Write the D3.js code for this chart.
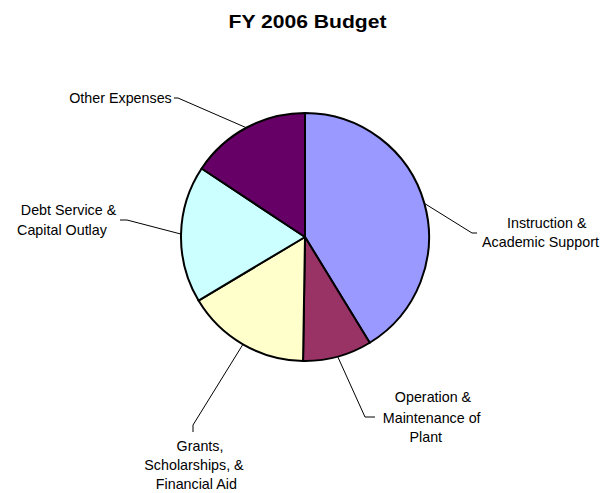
<!DOCTYPE html>
<html><head><meta charset="utf-8">
<script src="https://cdn.jsdelivr.net/npm/d3@7"></script>
<style>html,body{margin:0;padding:0;background:#fff;}svg{display:block;}</style>
</head><body>
<script>
const categories = ["Instruction & Academic Support", "Operation & Maintenance of Plant", "Grants, Scholarships, & Financial Aid", "Debt Service & Capital Outlay", "Other Expenses"];
const values = [41.3, 9.0, 16.2, 17.9, 15.7];
const colors = ["#9999FF", "#993366", "#FFFFCC", "#CCFFFF", "#660066"];
const labelLines = [
  ["Instruction &", "Academic Support"],
  ["Operation &", "Maintenance of", "Plant"],
  ["Grants,", "Scholarships, &", "Financial Aid"],
  ["Debt Service &", "Capital Outlay"],
  ["Other Expenses"]
];
const title = "FY 2006 Budget";

// layout (positions only)
const W = 614, H = 493, cx = 305, cy = 237, R = 124;
const leaderLayout = [
  {elbow: [472, 233], end: [477, 233], xs: [546.7, 540.5], ys: [227.5, 247]},
  {elbow: [365, 417], end: [375, 417], xs: [433, 431.7, 425.8], ys: [402, 422.5, 442]},
  {elbow: [193, 425], end: [193, 432], xs: [200, 194, 196.3], ys: [450.7, 469.7, 488.7]},
  {elbow: [127, 220], end: [120, 220], xs: [68.5, 62], ys: [215, 235]},
  {elbow: [178, 98], end: [174, 98], xs: [120.5], ys: [102.7]}
];

const svg = d3.select("body").append("svg").attr("width", W).attr("height", H);

svg.append("text").attr("x", 307.5).attr("y", 27.5).attr("text-anchor", "middle")
  .attr("font-family", "Liberation Sans, Arial, sans-serif").attr("font-weight", "bold")
  .attr("font-size", 19).attr("textLength", 158).attr("lengthAdjust", "spacingAndGlyphs")
  .attr("fill", "#000").text(title);

const data = categories.map((c, i) => ({c, v: values[i], i}));
const pie = d3.pie().sort(null).value(d => d.v);
const arcs = pie(data);
const arc = d3.arc().innerRadius(0).outerRadius(R);
const color = d3.scaleOrdinal().domain(categories).range(colors);

const g = svg.append("g").attr("transform", `translate(${cx},${cy})`);
g.selectAll("path.slice").data(arcs).join("path").attr("class", "slice")
  .attr("d", arc).attr("fill", d => color(d.data.c))
  .attr("stroke", "#000").attr("stroke-width", 2).attr("stroke-linejoin", "round");

// leader lines
arcs.forEach((a, i) => {
  const m = (a.startAngle + a.endAngle) / 2;
  const p0 = [cx + R * Math.sin(m), cy - R * Math.cos(m)];
  const L = leaderLayout[i];
  svg.append("path")
    .attr("d", d3.line()([p0, L.elbow, L.end]))
    .attr("fill", "none").attr("stroke", "#000").attr("stroke-width", 1);
  labelLines[i].forEach((t, j) => {
    svg.append("text").attr("x", L.xs[j]).attr("y", L.ys[j]).attr("text-anchor", "middle")
      .attr("font-family", "Liberation Sans, Arial, sans-serif").attr("font-size", 14.3)
      .attr("fill", "#000").text(t);
  });
});
</script>
</body></html>
